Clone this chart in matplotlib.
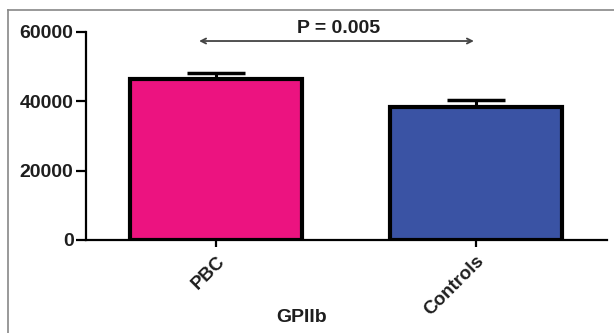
import matplotlib
matplotlib.use("Agg")
import matplotlib.pyplot as plt
from matplotlib.lines import Line2D

categories = ["PBC", "Controls"]
means = [46500, 38300]
errors = [1700, 2200]
bar_colors = ["#EC1380", "#3A53A4"]
yticks = [0, 20000, 40000, 60000]
ytick_labels = ["0", "20000", "40000", "60000"]
xlabel = "GPIIb"
p_text = "P = 0.005"

plt.rcParams['font.family'] = ['Liberation Sans', 'DejaVu Sans']
plt.rcParams['font.weight'] = 'bold'

W, H = 614, 333
fig = plt.figure(figsize=(W / 100, H / 100), dpi=100)
ax = fig.add_axes([86 / W, (H - 240) / H, (607 - 86) / W, (240 - 32) / H])

x = list(range(len(categories)))
ax.bar(x, means, width=0.665, color=bar_colors, edgecolor="black", linewidth=3.0, zorder=2)
ax.errorbar(x, means, yerr=[[0] * len(errors), errors], fmt="none", ecolor="black",
            elinewidth=2.2, capsize=21, capthick=2.5, zorder=1)

ax.set_xlim(-0.5, 1.504)
ax.set_ylim(0, 60000)
ax.set_yticks(yticks)
ax.set_yticklabels(ytick_labels, fontsize=14, fontweight='bold', color='#1e1e1e')
ax.set_xticks(x)
ax.set_xticklabels(categories, fontsize=13.5, fontweight='bold', color='#1e1e1e',
                   rotation=45, ha='right', va='top', rotation_mode='anchor')
for lbl in ax.get_xticklabels():
    lbl.set_transform(lbl.get_transform() + matplotlib.transforms.ScaledTranslation(10 / 100, 0, fig.dpi_scale_trans))

ax.tick_params(axis='y', length=7, width=1.6, pad=2, color='black')
ax.tick_params(axis='x', length=5, width=1.6, pad=4, color='black')
for s in ["top", "right"]:
    ax.spines[s].set_visible(False)
for s in ["left", "bottom"]:
    ax.spines[s].set_linewidth(1.6)
    ax.spines[s].set_color('black')

ax.annotate("", xy=(-0.065, 57400), xytext=(0.992, 57400),
            arrowprops=dict(arrowstyle="<->", color="#444444", lw=1.3,
                            mutation_scale=9, shrinkA=0, shrinkB=0))
ax.text(0.47, 58600, p_text, ha='center', va='bottom', fontsize=14,
        fontweight='bold', color='#1e1e1e')

fig.text(302 / W, 1 - 318 / H, xlabel, ha='center', va='center', fontsize=14,
         fontweight='bold', color='#1e1e1e')

fig.add_artist(Line2D([7.5 / W, 7.5 / W], [0, 1 - 10 / H], transform=fig.transFigure,
                      color='#888888', lw=1.2))
fig.add_artist(Line2D([7.5 / W, 1], [1 - 10 / H, 1 - 10 / H], transform=fig.transFigure,
                      color='#888888', lw=1.2))

fig.savefig("out.png", dpi=100)
